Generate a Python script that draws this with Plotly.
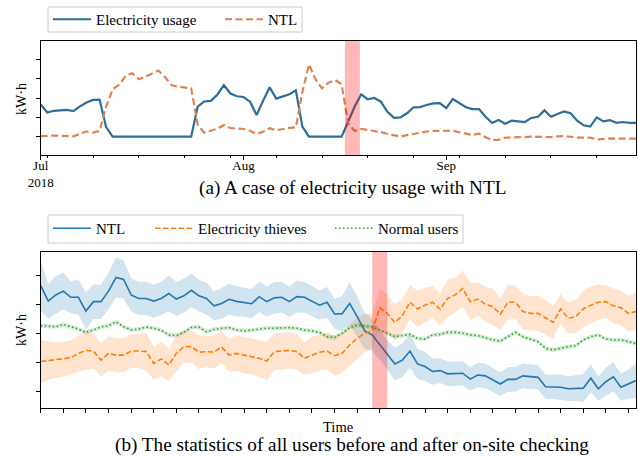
import pandas as pd
import plotly.graph_objects as go

# ---------------- data: (a) single user ----------------
dates = pd.date_range("2018-07-01", "2018-09-30", freq="D")
usage = [1.67, 1.25, 1.34, 1.35, 1.39, 1.32, 1.57, 1.77, 1.90, 1.92,
         0.50, 0, 0, 0, 0, 0, 0, 0, 0, 0,
         0, 0, 0, 0, 1.55, 1.82, 1.85, 2.17, 2.66, 2.23,
         2.09, 2.05, 1.81, 1.12, 1.86, 2.55, 1.97, 2.07, 2.19, 2.40,
         0.52, 0, 0, 0, 0, 0, 0, 0.78, 1.56, 2.19,
         1.93, 2.00, 1.81, 1.29, 0.98, 1.00, 1.21, 1.52, 1.53, 1.64,
         1.72, 1.74, 1.48, 1.95, 1.74, 1.52, 1.43, 1.43, 1.03, 0.71,
         0.86, 0.67, 0.83, 0.79, 0.76, 0.97, 1.03, 1.36, 1.03, 1.17,
         1.31, 1.21, 0.83, 0.59, 0.52, 1.00, 0.79, 0.86, 0.72, 0.76,
         0.72, 0.72]
ntl_case = [0.03, 0.05, 0.06, 0.05, 0.02, 0.02, 0.14, 0.28, 0.21, 0.30,
            1.55, 2.45, 2.69, 3.15, 3.28, 2.97, 3.10, 3.24, 3.42, 3.08,
            2.66, 2.59, 2.55, 2.50, 0.62, 0.21, 0.31, 0.41, 0.60, 0.45,
            0.42, 0.40, 0.31, 0.14, 0.26, 0.44, 0.33, 0.39, 0.46, 0.48,
            2.30, 3.73, 2.97, 2.50, 2.79, 2.93, 2.71, 0.68, 0.30, 0.40,
            0.34, 0.30, 0.24, 0.14, 0.06, 0.01, 0.08, 0.15, 0.22, 0.27,
            0.30, 0.30, 0.31, 0.31, 0.23, 0.17, 0.09, 0.16, -0.03, -0.17,
            -0.16, -0.05, -0.05, -0.03, -0.02, 0.00, 0.00, 0.00, -0.02, 0.02,
            0.03, 0.00, -0.05, -0.05, -0.05, -0.14, -0.10, -0.09, -0.10, -0.10,
            -0.10, -0.10]
check_span_a = ("2018-08-16 12:00", "2018-08-18 19:00")
month_ticks = ["2018-07-01", "2018-08-01", "2018-09-01"]
month_labels = ["Jul<br>2018", "Aug", "Sep"]

# ---------------- data: (b) statistics ----------------
t = list(range(80))
ntl_mean = [3.64, 3.11, 3.32, 3.45, 3.24, 3.24, 2.77, 3.09, 3.09, 3.45,
            3.92, 3.85, 3.32, 3.20, 3.20, 3.11, 3.20, 3.37, 3.18, 3.29,
            3.48, 3.29, 3.20, 2.95, 3.03, 3.17, 3.10, 3.07, 3.02, 3.26,
            3.09, 3.22, 3.24, 3.09, 3.26, 3.24, 3.11, 2.97, 3.07, 2.67,
            2.68, 3.03, 2.58, 2.09, 1.95, 1.61, 1.26, 0.96, 1.09, 1.40,
            0.96, 0.87, 0.70, 0.73, 0.62, 0.62, 0.64, 0.44, 0.58, 0.55,
            0.41, 0.27, 0.43, 0.43, 0.55, 0.52, 0.50, 0.18, 0.18, 0.16,
            0.11, 0.13, 0.13, 0.47, 0.11, 0.35, 0.52, 0.16, 0.27, 0.39]
ntl_std = [0.85, 0.60, 0.64, 0.63, 0.55, 0.60, 0.63, 0.59, 0.59, 0.63,
           0.68, 0.65, 0.57, 0.57, 0.57, 0.57, 0.56, 0.62, 0.58, 0.58,
           0.58, 0.54, 0.55, 0.50, 0.53, 0.53, 0.52, 0.50, 0.50, 0.52,
           0.52, 0.54, 0.52, 0.52, 0.55, 0.52, 0.52, 0.50, 0.52, 0.52,
           0.60, 0.72, 0.70, 0.62, 0.55, 0.50, 0.50, 0.57, 0.58, 0.58,
           0.52, 0.50, 0.45, 0.42, 0.42, 0.42, 0.42, 0.40, 0.42, 0.42,
           0.40, 0.40, 0.42, 0.42, 0.42, 0.42, 0.42, 0.42, 0.42, 0.44,
           0.42, 0.44, 0.48, 0.48, 0.42, 0.48, 0.50, 0.46, 0.50, 0.60]
thief_mean = [1.04, 1.07, 1.09, 1.13, 1.17, 1.32, 1.42, 1.40, 1.09, 1.32,
              1.26, 1.26, 1.40, 1.40, 1.38, 0.98, 1.13, 0.92, 1.32, 1.55,
              1.55, 1.36, 1.38, 1.36, 1.54, 1.26, 1.32, 1.26, 1.21, 1.15,
              1.06, 1.38, 1.40, 1.42, 1.38, 1.15, 1.26, 1.36, 1.40, 1.24,
              1.32, 1.61, 1.83, 2.01, 2.09, 2.88, 2.69, 2.38, 2.61, 3.07,
              2.84, 2.97, 3.07, 2.83, 3.20, 3.32, 3.54, 3.09, 3.18, 3.00,
              2.92, 2.66, 3.07, 3.07, 2.75, 2.69, 2.69, 2.54, 2.38, 2.84,
              2.52, 2.58, 2.84, 2.97, 3.07, 3.09, 2.95, 2.88, 2.69, 2.75]
thief_std = [0.74, 0.66, 0.61, 0.59, 0.59, 0.61, 0.67, 0.61, 0.57, 0.59,
             0.59, 0.59, 0.57, 0.58, 0.66, 0.56, 0.60, 0.54, 0.62, 0.55,
             0.55, 0.58, 0.53, 0.57, 0.55, 0.56, 0.61, 0.62, 0.61, 0.63,
             0.66, 0.63, 0.63, 0.62, 0.61, 0.55, 0.63, 0.61, 0.63, 0.68,
             0.68, 0.71, 0.71, 0.67, 0.60, 0.65, 0.64, 0.63, 0.57, 0.59,
             0.62, 0.60, 0.55, 0.55, 0.66, 0.59, 0.62, 0.63, 0.57, 0.59,
             0.63, 0.55, 0.60, 0.57, 0.62, 0.58, 0.60, 0.59, 0.57, 0.50,
             0.53, 0.57, 0.62, 0.63, 0.61, 0.56, 0.59, 0.60, 0.60, 0.63]
normal_mean = [2.27, 2.25, 2.23, 2.31, 2.23, 2.15, 2.04, 2.12, 2.23, 2.26,
               2.40, 2.23, 2.13, 2.15, 2.22, 2.18, 2.11, 1.95, 1.93, 2.04,
               2.21, 2.22, 2.06, 2.14, 2.18, 2.20, 2.12, 2.09, 2.12, 2.15,
               2.18, 2.18, 2.20, 2.20, 2.18, 2.12, 2.09, 2.04, 1.89, 1.86,
               2.01, 2.20, 2.29, 2.26, 2.22, 2.12, 2.01, 1.89, 1.93, 1.97,
               1.83, 1.81, 1.95, 1.97, 2.04, 2.04, 2.01, 1.95, 1.93, 1.86,
               1.78, 1.74, 1.89, 2.04, 1.89, 1.81, 1.72, 1.49, 1.44, 1.49,
               1.55, 1.58, 1.78, 1.89, 1.95, 1.81, 1.78, 1.78, 1.72, 1.66]
normal_std = [0.08, 0.07, 0.07, 0.08, 0.07, 0.07, 0.08, 0.07, 0.07, 0.07,
              0.08, 0.07, 0.07, 0.07, 0.07, 0.07, 0.07, 0.08, 0.07, 0.07,
              0.07, 0.07, 0.07, 0.07, 0.07, 0.07, 0.07, 0.07, 0.07, 0.07,
              0.07, 0.07, 0.07, 0.07, 0.07, 0.07, 0.07, 0.07, 0.07, 0.08,
              0.07, 0.08, 0.08, 0.08, 0.07, 0.07, 0.07, 0.07, 0.07, 0.07,
              0.07, 0.07, 0.07, 0.07, 0.07, 0.07, 0.07, 0.07, 0.07, 0.07,
              0.07, 0.07, 0.07, 0.07, 0.07, 0.07, 0.07, 0.07, 0.07, 0.07,
              0.07, 0.07, 0.07, 0.07, 0.07, 0.07, 0.07, 0.07, 0.07, 0.08]
check_span_b = (44, 46)
time_ticks = list(range(0, 80, 3))

# ---------------- figure ----------------
W, H = 638, 457
FONT = "Liberation Serif, Times New Roman, serif"


def px_x(p):
    return p / W


def px_y(p):
    return 1 - p / H


fig = go.Figure()

# (a)
fig.add_trace(go.Scatter(x=dates, y=usage, mode="lines", name="Electricity usage",
                         line=dict(color="#2c6e99", width=2.2),
                         xaxis="x", yaxis="y", legend="legend"))
fig.add_trace(go.Scatter(x=dates, y=ntl_case, mode="lines", name="NTL",
                         line=dict(color="#dd8452", width=2.2, dash="7px,3.5px"),
                         xaxis="x", yaxis="y", legend="legend2"))

# (b) bands + lines
series = [
    ("NTL", ntl_mean, ntl_std, "#1f77b4", "rgba(31,119,180,0.2)", "solid", "legend3"),
    ("Electricity thieves", thief_mean, thief_std, "#ff7f0e", "rgba(255,127,14,0.2)", "5.5px,2.4px", "legend4"),
    ("Normal users", normal_mean, normal_std, "#2ca02c", "rgba(44,160,44,0.2)", "1.5px,2.5px", "legend5"),
]
for name, m, s, col, fcol, dash, lg in series:
    lo = [a - b for a, b in zip(m, s)]
    hi = [a + b for a, b in zip(m, s)]
    fig.add_trace(go.Scatter(x=t, y=lo, mode="lines", line=dict(width=0), showlegend=False,
                             hoverinfo="skip", xaxis="x2", yaxis="y2"))
    fig.add_trace(go.Scatter(x=t, y=hi, mode="lines", line=dict(width=0), fill="tonexty",
                             fillcolor=fcol, showlegend=False, hoverinfo="skip",
                             xaxis="x2", yaxis="y2"))
for name, m, s, col, fcol, dash, lg in series:
    fig.add_trace(go.Scatter(x=t, y=m, mode="lines", name=name,
                             line=dict(color=col, width=1.6, dash=dash),
                             xaxis="x2", yaxis="y2", legend=lg))

xdom = [px_x(40.7), px_x(636)]
axis_common = dict(showline=True, linecolor="black", linewidth=1, mirror=True,
                   ticks="outside", ticklen=3.5, tickcolor="black", showgrid=False,
                   zeroline=False, automargin=False)


def legend_at(xp, yp):
    return dict(orientation="h", x=px_x(xp), y=px_y(yp), xanchor="left", yanchor="top",
                bgcolor="rgba(0,0,0,0)", borderwidth=0, traceorder="normal",
                font=dict(family=FONT, size=15, color="black"), itemwidth=38)


fig.update_layout(
    width=W, height=H, margin=dict(l=0, r=0, t=0, b=0, autoexpand=False),
    paper_bgcolor="white", plot_bgcolor="white",
    font=dict(family=FONT, size=13, color="black"),
    xaxis=dict(domain=xdom, anchor="y", type="date",
               range=[dates[0], dates[-1]],
               tickmode="array", tickvals=month_ticks, ticktext=month_labels,
               tickfont=dict(size=13), ticklabelstandoff=-5,
               minor=dict(ticks="outside", ticklen=2, tickcolor="black",
                          tick0="2018-07-02", dtick=7 * 86400000),
               **axis_common),
    yaxis=dict(domain=[px_y(155.3), px_y(40.7)], anchor="x", range=[-0.96, 4.96],
               tickmode="array", tickvals=[0, 1, 2, 3, 4], showticklabels=False,
               **axis_common),
    xaxis2=dict(domain=xdom, anchor="y2", range=[0, 79],
                tickmode="array", tickvals=time_ticks, showticklabels=False,
                **axis_common),
    yaxis2=dict(domain=[px_y(408.3), px_y(251.7)], anchor="x2", range=[-0.56, 4.80],
                tickmode="array", tickvals=[0, 1, 2, 3, 4], showticklabels=False,
                **axis_common),
    legend=legend_at(48, 3),
    legend2=legend_at(220, 3),
    legend3=legend_at(48, 212),
    legend4=legend_at(150, 212),
    legend5=legend_at(330, 212),
    showlegend=True,
)

# legend frames
for x0, y0, x1, y1 in [(48, 7, 302, 32), (48, 215, 463, 243)]:
    fig.add_shape(type="rect", xref="paper", yref="paper",
                  x0=px_x(x0), x1=px_x(x1), y0=px_y(y1), y1=px_y(y0),
                  fillcolor="rgba(255,255,255,0.8)", line=dict(color="#cccccc", width=1),
                  layer="below")

fig.add_shape(type="rect", xref="x", yref="y domain", x0=check_span_a[0], x1=check_span_a[1],
              y0=0, y1=1, fillcolor="rgba(255,0,0,0.28)", line=dict(width=0), layer="above")
fig.add_shape(type="rect", xref="x2", yref="y2 domain", x0=check_span_b[0], x1=check_span_b[1],
              y0=0, y1=1, fillcolor="rgba(255,0,0,0.28)", line=dict(width=0), layer="above")

ann = dict(xref="paper", yref="paper", showarrow=False)
fig.add_annotation(x=px_x(352), y=px_y(188), text="(a) A case of electricity usage with NTL",
                   xanchor="center", yanchor="middle", font=dict(family=FONT, size=19.2), **ann)
fig.add_annotation(x=px_x(352), y=px_y(445),
                   text="(b) The statistics of all users before and after on-site checking",
                   xanchor="center", yanchor="middle", font=dict(family=FONT, size=19.2), **ann)
fig.add_annotation(x=px_x(338), y=px_y(427), text="Time", xanchor="center", yanchor="middle",
                   font=dict(family=FONT, size=14.5), **ann)
fig.add_annotation(x=px_x(21), y=px_y(99), text="kW·h", textangle=-90, xanchor="center",
                   yanchor="middle", font=dict(family=FONT, size=14), **ann)
fig.add_annotation(x=px_x(21), y=px_y(330), text="kW·h", textangle=-90, xanchor="center",
                   yanchor="middle", font=dict(family=FONT, size=14), **ann)

fig.write_html("out.html", config={"displayModeBar": False},
               post_script="document.body.style.margin='0px';document.body.style.overflow='hidden';")
